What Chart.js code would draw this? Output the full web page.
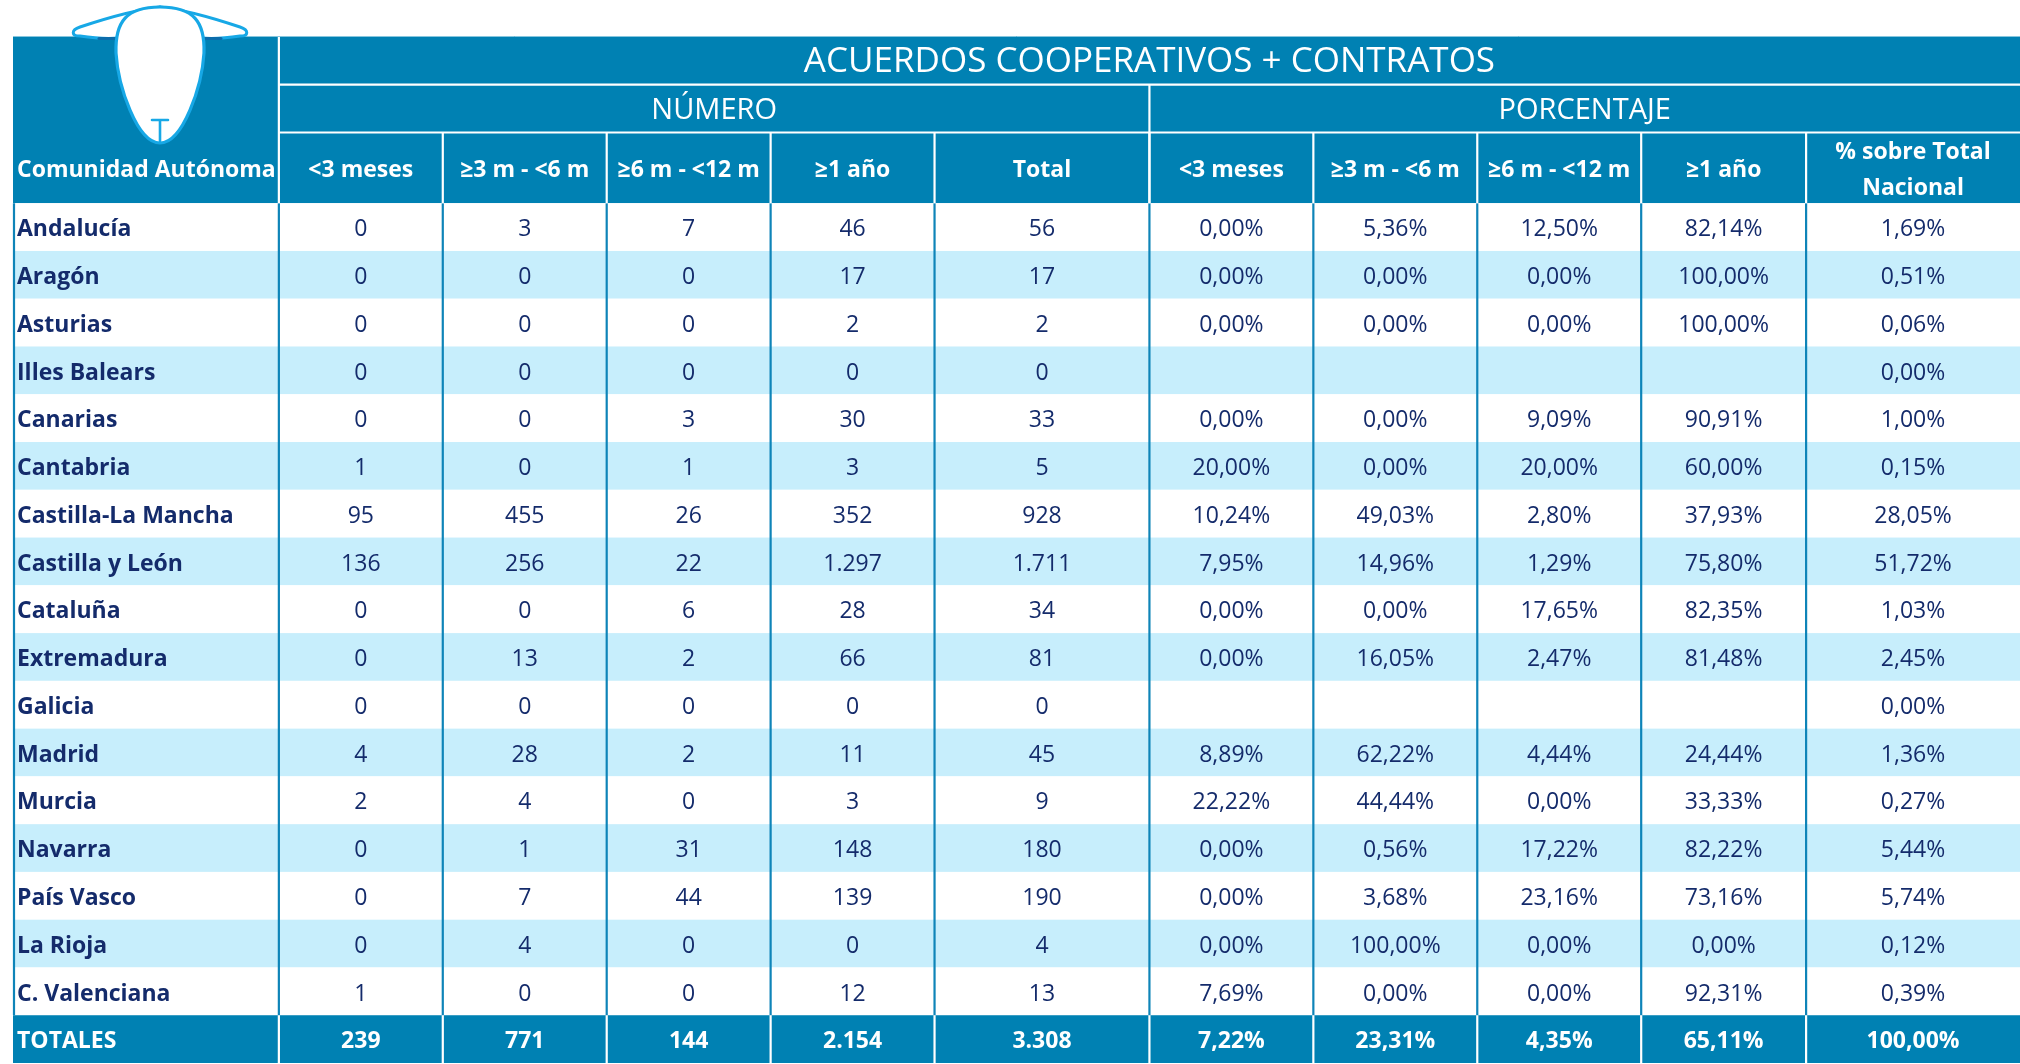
<!DOCTYPE html>
<html><head><meta charset="utf-8">
<script src="https://cdn.jsdelivr.net/npm/chart.js@4.4.1/dist/chart.umd.min.js"></script>
<style>html,body{margin:0;padding:0;background:#fff;overflow:hidden}</style>
</head><body>
<canvas id="c" width="2020" height="1064"></canvas>
<script>
// ---------------- DATA ----------------
const title = 'ACUERDOS COOPERATIVOS + CONTRATOS';
const groupLabels = ['NÚMERO', 'PORCENTAJE'];
const firstHeader = 'Comunidad Autónoma';
const columnLabels = ['<3 meses', '≥3 m - <6 m', '≥6 m - <12 m', '≥1 año', 'Total',
                      '<3 meses', '≥3 m - <6 m', '≥6 m - <12 m', '≥1 año', '% sobre Total\nNacional'];
const regions = ['Andalucía', 'Aragón', 'Asturias', 'Illes Balears', 'Canarias', 'Cantabria',
  'Castilla-La Mancha', 'Castilla y León', 'Cataluña', 'Extremadura', 'Galicia', 'Madrid',
  'Murcia', 'Navarra', 'País Vasco', 'La Rioja', 'C. Valenciana'];
const numLt3   = [0, 0, 0, 0, 0, 1, 95, 136, 0, 0, 0, 4, 2, 0, 0, 0, 1];
const num3to6  = [3, 0, 0, 0, 0, 0, 455, 256, 0, 13, 0, 28, 4, 1, 7, 4, 0];
const num6to12 = [7, 0, 0, 0, 3, 1, 26, 22, 6, 2, 0, 2, 0, 31, 44, 0, 0];
const numGe1   = [46, 17, 2, 0, 30, 3, 352, 1297, 28, 66, 0, 11, 3, 148, 139, 0, 12];
const numTotal = [56, 17, 2, 0, 33, 5, 928, 1711, 34, 81, 0, 45, 9, 180, 190, 4, 13];
const pctLt3   = [0.00, 0.00, 0.00, null, 0.00, 20.00, 10.24, 7.95, 0.00, 0.00, null, 8.89, 22.22, 0.00, 0.00, 0.00, 7.69];
const pct3to6  = [5.36, 0.00, 0.00, null, 0.00, 0.00, 49.03, 14.96, 0.00, 16.05, null, 62.22, 44.44, 0.56, 3.68, 100.00, 0.00];
const pct6to12 = [12.50, 0.00, 0.00, null, 9.09, 20.00, 2.80, 1.29, 17.65, 2.47, null, 4.44, 0.00, 17.22, 23.16, 0.00, 0.00];
const pctGe1   = [82.14, 100.00, 100.00, null, 90.91, 60.00, 37.93, 75.80, 82.35, 81.48, null, 24.44, 33.33, 82.22, 73.16, 0.00, 92.31];
const pctNat   = [1.69, 0.51, 0.06, 0.00, 1.00, 0.15, 28.05, 51.72, 1.03, 2.45, 0.00, 1.36, 0.27, 5.44, 5.74, 0.12, 0.39];
const totalsLabel = 'TOTALES';
const totalsNum = [239, 771, 144, 2154, 3308];
const totalsPct = [7.22, 23.31, 4.35, 65.11, 100.00];

// ---------------- LAYOUT / STYLE ----------------
const colWidths = [266, 164, 164, 164, 164, 215, 164, 164, 164, 165, 214];
const headerRowHeights = [1.02, 1.0, 1.48];
const C = {
  head: '#0081b3', alt: '#c7eefc', navy: '#142b6b', line: '#0e84b8', white: '#ffffff', logo: '#17a8e6', logoDark: '#0b6cab'
};
const FONT = '"Open Sans", "Noto Sans", sans-serif';
const CAP = 0.357; // half cap-height ratio used to centre text on the cap line

const numCols = [numLt3, num3to6, num6to12, numGe1, numTotal];
const pctCols = [pctLt3, pct3to6, pct6to12, pctGe1, pctNat];
const fmtInt = n => String(n).replace(/\B(?=(\d{3})+(?!\d))/g, '.');
const fmtPct = v => v == null ? '' : v.toFixed(2).replace('.', ',') + '%';

const xEdges = colWidths.reduce((a, w) => (a.push(a[a.length - 1] + w), a), [0]);
const yEdges = [0];
headerRowHeights.forEach(h => yEdges.push(yEdges[yEdges.length - 1] + h));
for (let i = 0; i <= regions.length; i++) yEdges.push(yEdges[yEdges.length - 1] + 1);
const nCols = colWidths.length;

const tablePlugin = {
  id: 'tablePlugin',
  beforeDatasetsDraw(chart) {
    const ctx = chart.ctx, xs = chart.scales.x, ys = chart.scales.y;
    const X = v => xs.getPixelForValue(v), Y = v => ys.getPixelForValue(v);
    const xe = xEdges.map(X), ye = yEdges.map(Y);
    const H = headerRowHeights.length;
    const rect = (x0, y0, x1, y1, col) => { ctx.fillStyle = col; ctx.fillRect(x0, y0, x1 - x0, y1 - y0); };
    const text = (s, x, cy, size, weight, col, align) => {
      ctx.font = weight + ' ' + size + 'px ' + FONT; ctx.fillStyle = col;
      ctx.textAlign = align || 'center'; ctx.textBaseline = 'alphabetic';
      ctx.fillText(s, x, cy + CAP * size);
    };
    const vline = (x, y0, y1, col, w) => { ctx.strokeStyle = col; ctx.lineWidth = w; ctx.beginPath(); ctx.moveTo(x, y0); ctx.lineTo(x, y1); ctx.stroke(); };
    const hline = (y, x0, x1, col, w) => { ctx.strokeStyle = col; ctx.lineWidth = w; ctx.beginPath(); ctx.moveTo(x0, y); ctx.lineTo(x1, y); ctx.stroke(); };
    ctx.save();
    // header background
    rect(xe[0], ye[0], xe[nCols], ye[H], C.head);
    // data rows (striped)
    regions.forEach((r, i) => rect(xe[0], ye[H + i], xe[nCols], ye[H + i + 1], i % 2 ? C.alt : C.white));
    // totals row
    const tr = H + regions.length;
    rect(xe[0], ye[tr], xe[nCols], ye[tr + 1], C.head);
    // blue vertical rules in data area
    for (let c = 0; c < nCols; c++) vline(xe[c] + (c === 0 ? 1 : 0), ye[H], ye[tr], C.line, 2.2);
    // white rules in header / totals
    vline(xe[1], ye[0], ye[H], C.white, 2.2);
    hline(ye[1], xe[1], xe[nCols], C.white, 2.2);
    hline(ye[2], xe[1], xe[nCols], C.white, 2.2);
    vline(xe[6], ye[1], ye[H], C.white, 2.2);
    for (let c = 2; c < nCols; c++) vline(xe[c], ye[2], ye[H], C.white, 2.2);
    for (let c = 1; c < nCols; c++) vline(xe[c], ye[tr], ye[tr + 1], C.white, 2.2);
    hline(ye[0] + 0.5, xe[0], xe[nCols], '#86c6de', 1);

    // header texts
    text(title, (xe[1] + xe[nCols]) / 2, (ye[0] + ye[1]) / 2 - 1, 35, 400, C.white);
    text(groupLabels[0], (xe[1] + xe[6]) / 2, (ye[1] + ye[2]) / 2 + 0.5, 29, 400, C.white);
    text(groupLabels[1], (xe[6] + xe[nCols]) / 2, (ye[1] + ye[2]) / 2 + 0.5, 29, 400, C.white);
    const hy = (ye[2] + ye[3]) / 2;
    text(firstHeader, xe[0] + 4, hy + 1, 23, 700, C.white, 'left');
    columnLabels.forEach((lab, j) => {
      const cx = (xe[j + 1] + xe[j + 2]) / 2;
      const lines = lab.split('\n');
      if (lines.length === 1) text(lab, cx, hy + 1, 23, 700, C.white);
      else { text(lines[0], cx, hy - 17, 23, 700, C.white); text(lines[1], cx, hy + 19, 23, 700, C.white); }
    });
    // data texts
    regions.forEach((r, i) => {
      const cy = (ye[H + i] + ye[H + i + 1]) / 2 + 1;
      text(r, xe[0] + 4, cy, 23, 700, C.navy, 'left');
      numCols.forEach((col, j) => text(fmtInt(col[i]), (xe[j + 1] + xe[j + 2]) / 2, cy, 23, 400, C.navy));
      pctCols.forEach((col, j) => text(fmtPct(col[i]), (xe[j + 6] + xe[j + 7]) / 2, cy, 23, 400, C.navy));
    });
    const ty = (ye[tr] + ye[tr + 1]) / 2 + 0.5;
    text(totalsLabel, xe[0] + 4, ty, 23, 700, C.white, 'left');
    totalsNum.forEach((v, j) => text(fmtInt(v), (xe[j + 1] + xe[j + 2]) / 2, ty, 23, 700, C.white));
    totalsPct.forEach((v, j) => text(fmtPct(v), (xe[j + 6] + xe[j + 7]) / 2, ty, 23, 700, C.white));

    // logo (sheep head) anchored at the first column header cell
    const ox = xe[0], oy = ye[0];
    const P = (x, y) => [ox + x, oy + y];
    ctx.lineJoin = 'round'; ctx.lineCap = 'round';
    const ear = (s) => {
      const m = x => 147 + s * (x - 147);
      ctx.beginPath();
      ctx.moveTo(...P(m(147), -29));
      ctx.bezierCurveTo(...P(m(120), -26), ...P(m(85), -15), ...P(m(67), -9));
      ctx.bezierCurveTo(...P(m(58), -6), ...P(m(58), 0), ...P(m(67), 0));
      ctx.bezierCurveTo(...P(m(80), 2), ...P(m(95), 3), ...P(m(106), 2));
      ctx.lineTo(...P(m(147), 2));
      ctx.closePath();
      ctx.fillStyle = '#ffffff'; ctx.fill();
      ctx.strokeStyle = C.logo; ctx.lineWidth = 3; ctx.stroke();
      ctx.beginPath(); ctx.moveTo(...P(m(86), 2.5)); ctx.lineTo(...P(m(104), 2.5));
      ctx.strokeStyle = C.logoDark; ctx.lineWidth = 3; ctx.stroke();
    };
    ear(1); ear(-1);
    ctx.beginPath();
    ctx.moveTo(...P(147, -29));
    ctx.bezierCurveTo(...P(181, -29), ...P(192, -14), ...P(191, 17));
    ctx.bezierCurveTo(...P(189, 50), ...P(170, 107), ...P(147, 107));
    ctx.bezierCurveTo(...P(124, 107), ...P(105, 50), ...P(103, 17));
    ctx.bezierCurveTo(...P(102, -14), ...P(113, -29), ...P(147, -29));
    ctx.closePath();
    ctx.fillStyle = '#ffffff'; ctx.fill();
    ctx.strokeStyle = C.logo; ctx.lineWidth = 3.2; ctx.stroke();
    ctx.beginPath();
    ctx.moveTo(...P(139, 84)); ctx.lineTo(...P(155, 84));
    ctx.moveTo(...P(147, 84)); ctx.lineTo(...P(147, 105));
    ctx.strokeStyle = C.logo; ctx.lineWidth = 2.6; ctx.stroke();
    ctx.restore();
  }
};

new Chart(document.getElementById('c'), {
  type: 'scatter',
  data: { datasets: [] },
  options: {
    responsive: false, animation: false, devicePixelRatio: 1,
    layout: { padding: { left: 13, top: 36, right: 0, bottom: 1 } },
    plugins: { legend: { display: false }, tooltip: { enabled: false } },
    scales: {
      x: { type: 'linear', min: 0, max: xEdges[xEdges.length - 1], display: false },
      y: { type: 'linear', min: 0, max: yEdges[yEdges.length - 1], reverse: true, display: false }
    }
  },
  plugins: [tablePlugin]
});
</script>
</body></html>
